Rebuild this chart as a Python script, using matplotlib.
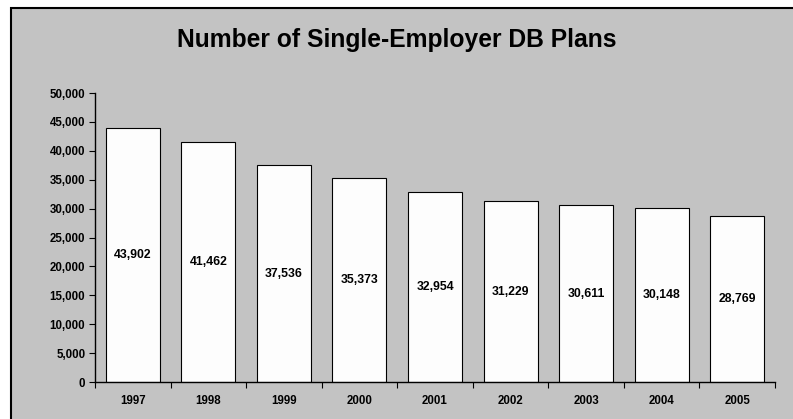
import matplotlib
matplotlib.use("Agg")
import matplotlib.pyplot as plt
from matplotlib.patches import Rectangle
from matplotlib.ticker import FuncFormatter, FixedLocator, NullFormatter

years = ["1997", "1998", "1999", "2000", "2001", "2002", "2003", "2004", "2005"]
plans = [43902, 41462, 37536, 35373, 32954, 31229, 30611, 30148, 28769]

plt.rcParams['font.family'] = ['Liberation Sans', 'DejaVu Sans']

W, H = 793, 419
fig = plt.figure(figsize=(W / 100, H / 100), dpi=100)
fig.patch.set_facecolor("white")

# gray chart area with border on left/top (cropped at right/bottom)
bg = Rectangle((10.5 / W, -0.1), 1.2, 1 - 8.5 / H + 0.1, transform=fig.transFigure,
               facecolor="#c3c3c3", edgecolor="black", linewidth=1.5, zorder=-5)
fig.patches.append(bg)

ax = fig.add_axes([95 / W, 1 - 382 / H, (775 - 95) / W, (382 - 93) / H])
ax.set_facecolor("none")
ax.set_zorder(1)

x = range(len(years))
ax.bar(x, plans, width=0.714, color="#fdfdfd", edgecolor="black", linewidth=0.8, zorder=2)

for i, v in enumerate(plans):
    ax.text(i, v / 2, f"{v:,}", ha="center", va="center", fontsize=8.8,
            fontweight="bold", zorder=3)

ax.set_xlim(-0.5, len(years) - 0.5)
ax.set_ylim(0, 50000)
ax.set_yticks(range(0, 50001, 5000))
ax.yaxis.set_major_formatter(FuncFormatter(lambda v, p: f"{int(v):,}"))
ax.tick_params(axis="y", labelsize=8.3, length=4, width=0.8, pad=3)
for lbl in ax.get_yticklabels():
    lbl.set_fontweight("bold")

ax.xaxis.set_major_locator(FixedLocator([i - 0.5 for i in range(len(years) + 1)]))
ax.xaxis.set_major_formatter(NullFormatter())
ax.xaxis.set_minor_locator(FixedLocator(list(x)))
ax.set_xticklabels(years, minor=True)
ax.tick_params(axis="x", which="major", length=4, width=0.8)
ax.tick_params(axis="x", which="minor", length=0, labelsize=8.3, pad=9)
for lbl in ax.get_xticklabels(minor=True):
    lbl.set_fontweight("bold")

for s in ["top", "right"]:
    ax.spines[s].set_visible(False)
for s in ["left", "bottom"]:
    ax.spines[s].set_linewidth(1.0)

fig.text(397 / W, 1 - 40 / H, "Number of Single-Employer DB Plans", ha="center",
         va="center", fontsize=17.7, fontweight="bold")

fig.savefig("out.png", dpi=100)
